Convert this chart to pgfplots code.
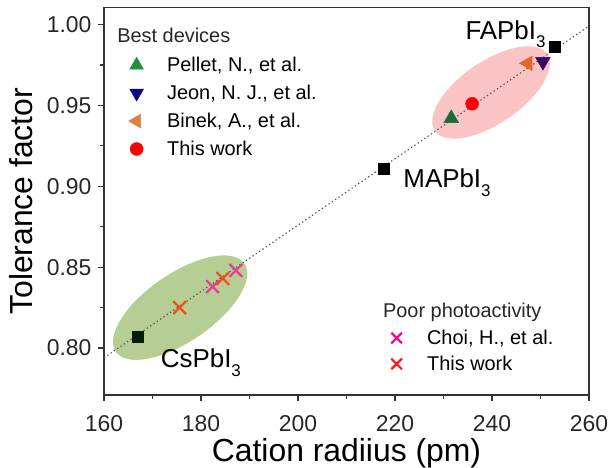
\documentclass[border=0pt]{standalone}
\usepackage{fontspec}
\setmainfont{Liberation Sans}
\usepackage{pgfplots}
\pgfplotsset{compat=1.18}

\definecolor{axgray}{HTML}{333333}
\definecolor{ellgreen}{RGB}{182,206,148}
\definecolor{ellpink}{RGB}{250,196,196}
% colours as they appear inside the ellipses
\definecolor{pelletin}{HTML}{1E6B3A}
\definecolor{jeonin}{HTML}{3A0A60}
\definecolor{binekin}{HTML}{E06A28}
\definecolor{choiin}{HTML}{E83C96}
\definecolor{workin}{HTML}{F0501E}
% colours of the legend keys
\definecolor{pellet}{HTML}{1E9040}
\definecolor{jeon}{HTML}{0A0A80}
\definecolor{binek}{HTML}{E08040}

\pgfplotsset{
  frame/.style={scale only axis, width=485bp, height=387.5bp,
    xmin=160, xmax=260, ymin=0.771, ymax=1.0105},
  keys/.style={hide axis, frame,
    legend cell align=left,
    legend image code/.code={
      \path[draw=none, fill=none] (-14bp,0bp) -- (29bp,0bp);
      \draw[##1] plot coordinates {(0bp,0bp)};},
    legend style={draw=none, fill=none, anchor=north west, inner sep=0pt,
      font=\fontsize{20}{22}\selectfont, row sep=9bp, column sep=0pt,
      nodes={inner sep=1.5bp}}},
}

\begin{document}
\begin{tikzpicture}
\begin{axis}[frame,
  xtick={160,180,200,220,240,260},
  ytick={0.80,0.85,0.90,0.95,1.00},
  minor x tick num=1, minor y tick num=1,
  tick pos=left, tick align=outside,
  major tick length=6bp, minor tick length=4bp,
  axis line style={axgray, line width=1.5bp},
  tick style={axgray, line width=1.2bp},
  yticklabel style={xshift=-3bp, /pgf/number format/.cd, fixed, fixed zerofill, precision=2},
  /pgf/number format/assume math mode=true,
  ticklabel style={font=\fontsize{23}{26}\selectfont, text=black!85},
  xticklabel style={yshift=-11bp},
  xlabel={Cation radiius (pm)}, ylabel={Tolerance factor},
  label style={font=\fontsize{32}{36}\selectfont},
  xlabel style={at={(axis description cs:0.5,-0.151)}, anchor=center},
  ylabel style={at={(axis description cs:-0.171,0.5)}, anchor=center},
]
\coordinate (bl) at (rel axis cs:0,0);
\coordinate (tr) at (rel axis cs:1,1);
\fill[ellgreen, rotate around={34.4:(axis cs:175.7,0.825)}]
  (axis cs:175.7,0.825) ellipse [x radius=78bp, y radius=34bp];
\fill[ellpink, rotate around={34.4:(axis cs:239.8,0.958)}]
  (axis cs:239.8,0.958) ellipse [x radius=68bp, y radius=31bp];

% perovskites
\addplot[only marks, mark=square*, mark size=5.5bp, black]
  coordinates {(217.6,0.911) (253.0,0.986)};
\addplot[only marks, mark=square*, mark size=5.5bp, black!80!green!60!black]
  coordinates {(167.0,0.807)};
% best devices
\addplot[only marks, mark=triangle*, mark size=8.5bp, pelletin]
  coordinates {(231.6,0.942)};
\addplot[only marks, mark=triangle*, mark size=8.5bp, jeonin, mark options={rotate=180}]
  coordinates {(250.5,0.977)};
\addplot[only marks, mark=triangle*, mark size=8.5bp, binekin, mark options={rotate=90}]
  coordinates {(247.4,0.976)};
\addplot[only marks, mark=*, mark size=6.5bp, red]
  coordinates {(235.9,0.951)};
% poor photoactivity
\addplot[only marks, mark=x, mark size=9bp, line width=2.2bp, choiin]
  coordinates {(182.4,0.838) (187.2,0.848)};
\addplot[only marks, mark=x, mark size=9bp, line width=2.2bp, workin]
  coordinates {(175.6,0.825) (184.5,0.843)};
% trend line
\addplot[gray!60!black, line width=1.1bp, dash pattern=on 1.3bp off 2.7bp]
  coordinates {(160,0.794) (260,0.999)};

\node[anchor=base west, font=\fontsize{26}{28}\selectfont, inner sep=0pt]
  at (axis cs:234.5,0.991) {FAPbI\raisebox{-0.33em}{\fontsize{17}{17}\selectfont 3}};
\node[anchor=base west, font=\fontsize{26}{28}\selectfont, inner sep=0pt]
  at (axis cs:221.7,0.899) {MAPbI\raisebox{-0.33em}{\fontsize{17}{17}\selectfont 3}};
\node[anchor=base west, font=\fontsize{26}{28}\selectfont, inner sep=0pt]
  at (axis cs:171.7,0.788) {CsPbI\raisebox{-0.33em}{\fontsize{17}{17}\selectfont 3}};

\node[anchor=west, font=\fontsize{20}{22}\selectfont, inner sep=0pt, text=black!85]
  at (rel axis cs:0.027,0.929) {Best devices};
\node[anchor=west, font=\fontsize{20}{22}\selectfont, inner sep=0pt, text=black!85]
  at (rel axis cs:0.575,0.214) {Poor photoactivity};
\end{axis}

\begin{axis}[keys, legend style={at={(rel axis cs:0.038,0.876)}}]
\addlegendimage{only marks, mark=triangle*, mark size=8bp, pellet}
\addlegendentry{Pellet, N., et al.}
\addlegendimage{only marks, mark=triangle*, mark size=8bp, jeon, mark options={rotate=180}}
\addlegendentry{Jeon, N. J., et al.}
\addlegendimage{only marks, mark=triangle*, mark size=8bp, binek, mark options={rotate=90}}
\addlegendentry{Binek, A., et al.}
\addlegendimage{only marks, mark=*, mark size=6.5bp, red}
\addlegendentry{This work}
\end{axis}

\begin{axis}[keys, legend style={at={(rel axis cs:0.574,0.172)}, row sep=7bp}]
\addlegendimage{only marks, mark=x, mark size=7.5bp, line width=2.2bp, magenta}
\addlegendentry{Choi, H., et al.}
\addlegendimage{only marks, mark=x, mark size=7.5bp, line width=2.2bp, red!90!white}
\addlegendentry{This work}
\end{axis}

\pgfresetboundingbox
\path ([shift={(-104bp,-73bp)}]bl) rectangle ([shift={(19bp,7.5bp)}]tr);
\end{tikzpicture}
\end{document}
